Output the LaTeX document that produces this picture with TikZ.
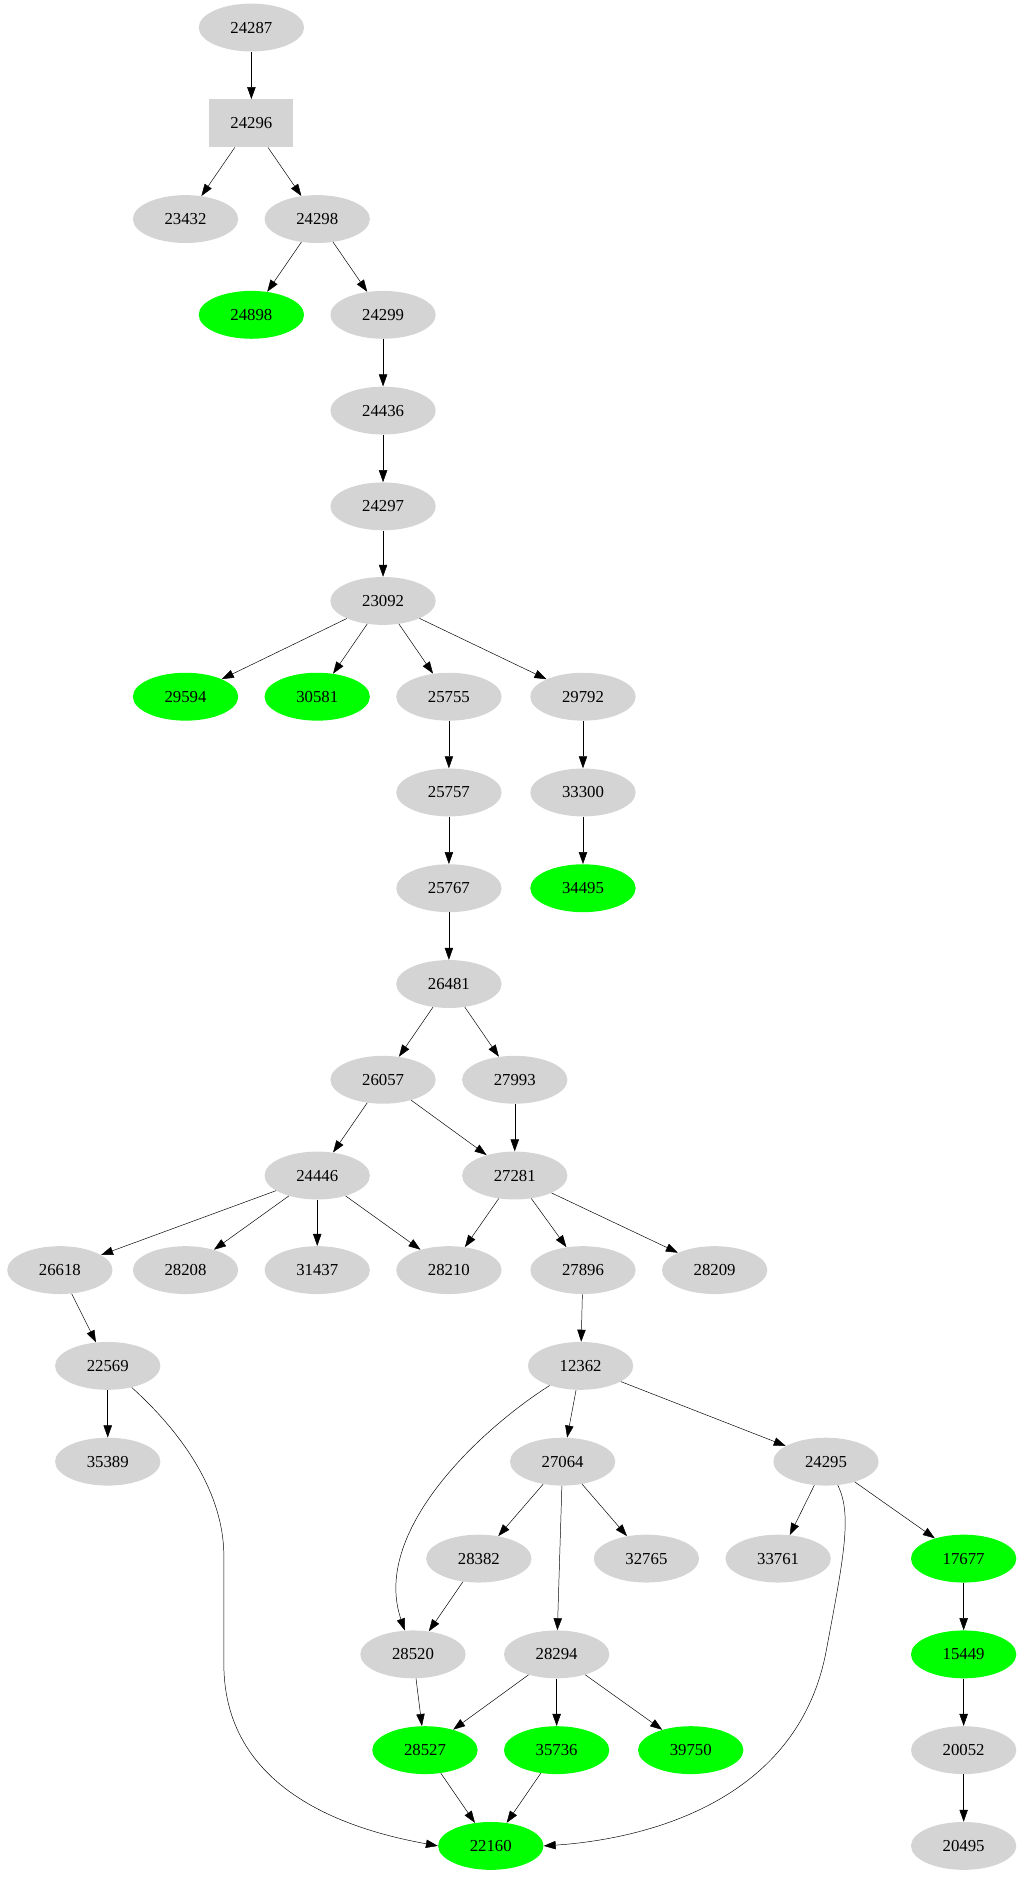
\documentclass[tikz,border=0pt]{standalone}
\usepackage{fontspec}
\setmainfont{Liberation Serif}
\usetikzlibrary{shapes.geometric,arrows.meta}

\begin{document}
\begin{tikzpicture}[x=1pt,y=-1pt,font=\fontsize{14}{16}\selectfont,
    >={Triangle[length=10pt,width=7pt]}]
	\tikzstyle{gnode}=[ellipse,fill=black!17,minimum width=88pt,minimum height=40pt,inner sep=0pt]
	\tikzstyle{hit}=[gnode,fill=green]
	\tikzstyle{gbox}=[rectangle,fill=black!17,minimum width=70pt,minimum height=40pt,inner sep=0pt]

	\useasboundingbox (0,0) rectangle (855,1573);

	\node [gnode] (n24287) at (210,23) {24287};
	\node [gbox]  (n24296) at (210,103) {24296};
	\node [gnode] (n23432) at (155,183) {23432};
	\node [gnode] (n24298) at (265,183) {24298};
	\node [hit]   (n24898) at (210,263) {24898};
	\node [gnode] (n24299) at (320,263) {24299};
	\node [gnode] (n24436) at (320,343) {24436};
	\node [gnode] (n24297) at (320,423) {24297};
	\node [gnode] (n23092) at (320,502) {23092};

	\node [hit]   (n29594) at (155,582) {29594};
	\node [hit]   (n30581) at (265,582) {30581};
	\node [gnode] (n25755) at (375,582) {25755};
	\node [gnode] (n29792) at (487,582) {29792};
	\node [gnode] (n25757) at (375,662) {25757};
	\node [gnode] (n33300) at (487,662) {33300};
	\node [gnode] (n25767) at (375,742) {25767};
	\node [hit]   (n34495) at (487,742) {34495};
	\node [gnode] (n26481) at (375,822) {26481};
	\node [gnode] (n26057) at (320,902) {26057};
	\node [gnode] (n27993) at (430,902) {27993};
	\node [gnode] (n24446) at (265,982) {24446};
	\node [gnode] (n27281) at (430,982) {27281};

	\node [gnode] (n26618) at (50,1061) {26618};
	\node [gnode] (n28208) at (155,1061) {28208};
	\node [gnode] (n31437) at (265,1061) {31437};
	\node [gnode] (n28210) at (375,1061) {28210};
	\node [gnode] (n27896) at (487,1061) {27896};
	\node [gnode] (n28209) at (597,1061) {28209};
	\node [gnode] (n22569) at (90,1141) {22569};
	\node [gnode] (n12362) at (485,1141) {12362};
	\node [gnode] (n35389) at (90,1221) {35389};
	\node [gnode] (n27064) at (470,1221) {27064};
	\node [gnode] (n24295) at (690,1221) {24295};
	\node [gnode] (n28382) at (400,1302) {28382};
	\node [gnode] (n32765) at (540,1302) {32765};
	\node [gnode] (n33761) at (650,1302) {33761};
	\node [hit]   (n17677) at (805,1302) {17677};
	\node [gnode] (n28520) at (345,1382) {28520};
	\node [gnode] (n28294) at (465,1382) {28294};
	\node [hit]   (n15449) at (805,1382) {15449};
	\node [hit]   (n28527) at (355,1462) {28527};
	\node [hit]   (n35736) at (465,1462) {35736};
	\node [hit]   (n39750) at (577,1462) {39750};
	\node [gnode] (n20052) at (805,1462) {20052};
	\node [hit]   (n22160) at (410,1542) {22160};
	\node [gnode] (n20495) at (805,1542) {20495};

	\draw[->] (n24287) -- (n24296);
	\draw[->] (n24296) -- (n23432);
	\draw[->] (n24296) -- (n24298);
	\draw[->] (n24298) -- (n24898);
	\draw[->] (n24298) -- (n24299);
	\draw[->] (n24299) -- (n24436);
	\draw[->] (n24436) -- (n24297);
	\draw[->] (n24297) -- (n23092);
	\draw[->] (n23092) -- (n29594);
	\draw[->] (n23092) -- (n30581);
	\draw[->] (n23092) -- (n25755);
	\draw[->] (n23092) -- (n29792);
	\draw[->] (n25755) -- (n25757);
	\draw[->] (n25757) -- (n25767);
	\draw[->] (n25767) -- (n26481);
	\draw[->] (n29792) -- (n33300);
	\draw[->] (n33300) -- (n34495);
	\draw[->] (n26481) -- (n26057);
	\draw[->] (n26481) -- (n27993);
	\draw[->] (n26057) -- (n24446);
	\draw[->] (n26057) -- (n27281);
	\draw[->] (n27993) -- (n27281);
	\draw[->] (n24446) -- (n26618);
	\draw[->] (n24446) -- (n28208);
	\draw[->] (n24446) -- (n31437);
	\draw[->] (n24446) -- (n28210);
	\draw[->] (n27281) -- (n28210);
	\draw[->] (n27281) -- (n27896);
	\draw[->] (n27281) -- (n28209);
	\draw[->] (n26618) -- (n22569);
	\draw[->] (n27896) -- (n12362);
	\draw[->] (n22569) -- (n35389);
	\draw[->] (n12362) -- (n27064);
	\draw[->] (n12362) -- (n24295);
	\draw[->] (n27064) -- (n28382);
	\draw[->] (n27064) -- (n32765);
	\draw[->] (n27064) -- (n28294);
	\draw[->] (n24295) -- (n33761);
	\draw[->] (n24295) -- (n17677);
	\draw[->] (n28382) -- (n28520);
	\draw[->] (n17677) -- (n15449);
	\draw[->] (n15449) -- (n20052);
	\draw[->] (n20052) -- (n20495);
	\draw[->] (n28520) -- (n28527);
	\draw[->] (n28294) -- (n28527);
	\draw[->] (n28294) -- (n35736);
	\draw[->] (n28294) -- (n39750);
	\draw[->] (n28527) -- (n22160);
	\draw[->] (n35736) -- (n22160);

	% long curved edges
	\draw[->] (n12362) .. controls (400,1195) and (310,1280) .. (n28520);
	\draw[->] (n22569) .. controls (150,1195) and (187,1245) .. (187,1300)
		-- (187,1390) .. controls (187,1500) and (300,1530) .. (n22160.west);
	\draw[->] (n24295) .. controls (712,1265) and (705,1300) .. (690,1380)
		.. controls (665,1510) and (530,1537) .. (n22160.east);
\end{tikzpicture}
\end{document}
